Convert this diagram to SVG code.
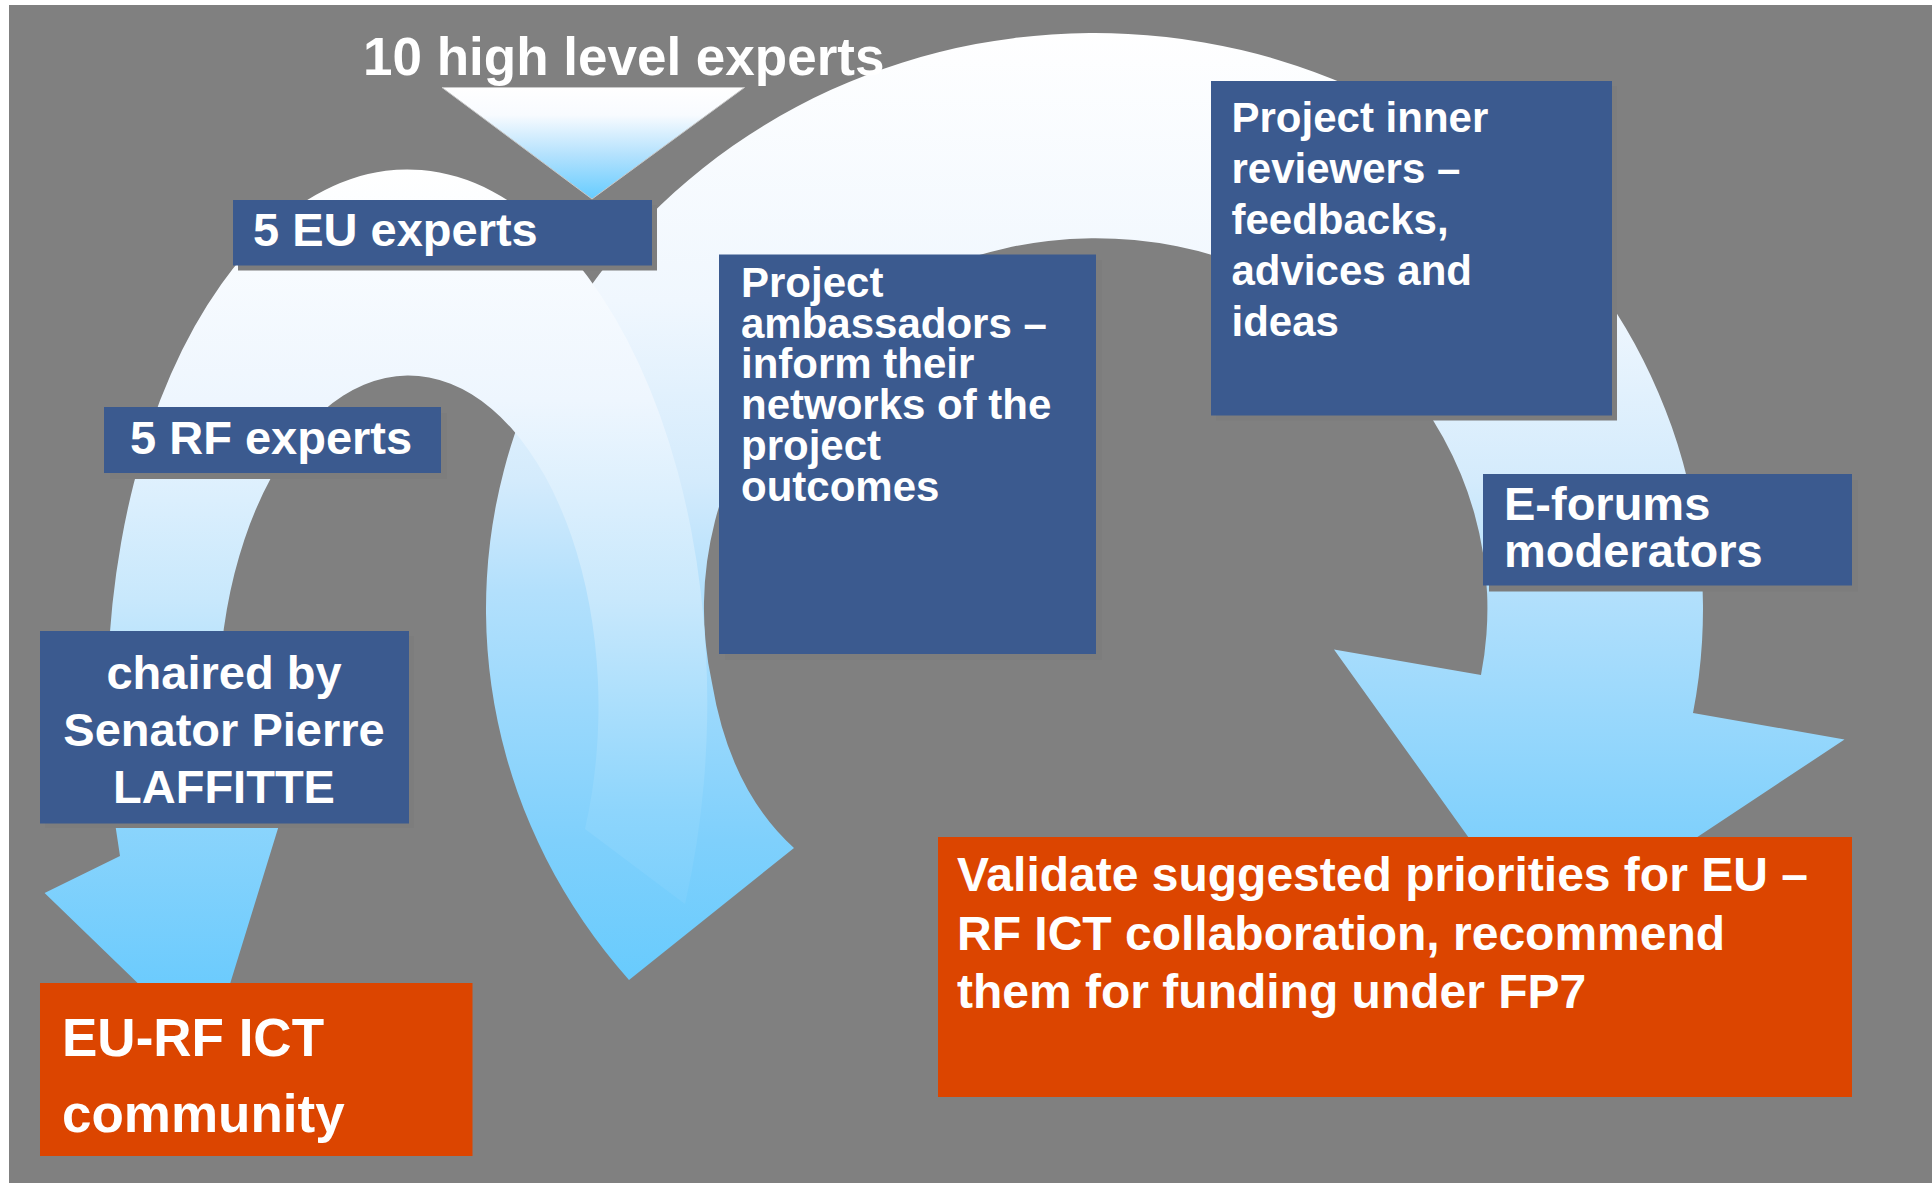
<svg xmlns="http://www.w3.org/2000/svg" width="1932" height="1183" viewBox="0 0 1932 1183">
<defs>
<linearGradient id="gB" gradientUnits="userSpaceOnUse" x1="0" y1="24" x2="0" y2="980">
<stop offset="0" stop-color="#ffffff"/>
<stop offset="0.29" stop-color="#f0f7fe"/>
<stop offset="0.477" stop-color="#d4ebfc"/>
<stop offset="0.592" stop-color="#b3e0fc"/>
<stop offset="0.854" stop-color="#7fd0fc"/>
<stop offset="1" stop-color="#68cbfd"/>
</linearGradient>
<linearGradient id="gS" gradientUnits="userSpaceOnUse" x1="0" y1="167" x2="0" y2="1052">
<stop offset="0" stop-color="#ffffff"/>
<stop offset="0.263" stop-color="#eef6fe"/>
<stop offset="0.489" stop-color="#c8e8fc"/>
<stop offset="0.73" stop-color="#8dd5fc"/>
<stop offset="0.922" stop-color="#6ccbfd"/>
<stop offset="1" stop-color="#66caff"/>
</linearGradient>
<linearGradient id="gT" gradientUnits="userSpaceOnUse" x1="0" y1="87" x2="0" y2="199">
<stop offset="0" stop-color="#ffffff"/>
<stop offset="0.25" stop-color="#f8fbff"/>
<stop offset="0.6" stop-color="#b5e2fd"/>
<stop offset="1" stop-color="#66ccff"/>
</linearGradient>
<style>
.blue{fill:#3b5a8f}
.orange{fill:#dc4500}
.shadow{fill:#7d7d7d}
text{font-family:"Liberation Sans",Arial,sans-serif;font-weight:bold;fill:#ffffff}
</style>
</defs>
<rect x="0" y="0" width="1932" height="1183" fill="#ffffff"/>
<rect x="9" y="5" width="1923" height="1178" fill="#808080"/>
<g id="connectors">
<path id="arc-big" fill="url(#gB)" d="M 629,980 A 608.5 576 0 1 1 1693,713 L 1844.5,739.5 L 1542,940 L 1334,649.4 L 1481,675 A 391.75 370 0 1 0 712,683 Q 730,790 794,848 Z"/>
<path id="arc-small" fill="url(#gS)" d="M 120,856 A 300 533 0 1 1 685,904 L 585,829 A 190 331 0 1 0 221,760 L 296,770 L 209,1052 L 44.6,893 Z"/>
<path id="funnel" fill="url(#gT)" stroke="#c8c8c8" stroke-width="1" d="M 442,87.5 L 744.5,87.5 L 592,199 Z"/>
</g>
<g id="title">
<text x="363" y="75" font-size="53">10 high level experts</text>
</g>
<g id="node-eu">
<rect class="shadow" x="238" y="205" width="419" height="65.5"/>
<rect class="blue" x="233" y="200" width="419" height="65.5"/>
<text x="253" y="246" font-size="47">5 EU experts</text>
</g>
<g id="node-rf">
<rect class="shadow" x="110" y="413" width="337" height="66"/>
<rect class="blue" x="104" y="407" width="337" height="66"/>
<text x="130" y="454" font-size="47">5 RF experts</text>
</g>
<g id="node-chair">
<rect class="shadow" x="45" y="636" width="369" height="192"/>
<rect class="blue" x="40" y="631" width="369" height="192.5"/>
<text x="224" y="688.5" font-size="47" text-anchor="middle">chaired by</text>
<text x="224" y="745.5" font-size="47" text-anchor="middle">Senator Pierre</text>
<text x="224" y="802.5" font-size="47" text-anchor="middle">LAFFITTE</text>
</g>
<g id="node-community">
<rect class="orange" x="40" y="983" width="432.5" height="173"/>
<text x="62" y="1055.5" font-size="53">EU-RF ICT</text>
<text x="62" y="1131.5" font-size="53">community</text>
</g>
<g id="node-ambassadors">
<rect class="shadow" x="725" y="260" width="377" height="400"/>
<rect class="blue" x="719" y="254.5" width="377" height="399.5"/>
<text x="741" y="296.6" font-size="42">Project</text>
<text x="741" y="337.5" font-size="42">ambassadors –</text>
<text x="741" y="378.4" font-size="42">inform their</text>
<text x="741" y="419.3" font-size="42">networks of the</text>
<text x="741" y="460.2" font-size="42">project</text>
<text x="741" y="501.1" font-size="42">outcomes</text>
</g>
<g id="node-reviewers">
<rect class="shadow" x="1216" y="86" width="401" height="334.5"/>
<rect class="blue" x="1211" y="81" width="401" height="334.5"/>
<text x="1231.5" y="131.6" font-size="42">Project inner</text>
<text x="1231.5" y="182.7" font-size="42">reviewers –</text>
<text x="1231.5" y="233.8" font-size="42">feedbacks,</text>
<text x="1231.5" y="284.9" font-size="42">advices and</text>
<text x="1231.5" y="336" font-size="42">ideas</text>
</g>
<g id="node-eforums">
<rect class="shadow" x="1489" y="480" width="369" height="111.5"/>
<rect class="blue" x="1483" y="474" width="369" height="111.5"/>
<text x="1504" y="520" font-size="47">E-forums</text>
<text x="1504" y="566.6" font-size="47">moderators</text>
</g>
<g id="node-validate">
<rect class="orange" x="938" y="837" width="914" height="260"/>
<text x="957" y="891" font-size="48">Validate suggested priorities for EU –</text>
<text x="957" y="949.5" font-size="48">RF ICT collaboration, recommend</text>
<text x="957" y="1008" font-size="48">them for funding under FP7</text>
</g>
</svg>
